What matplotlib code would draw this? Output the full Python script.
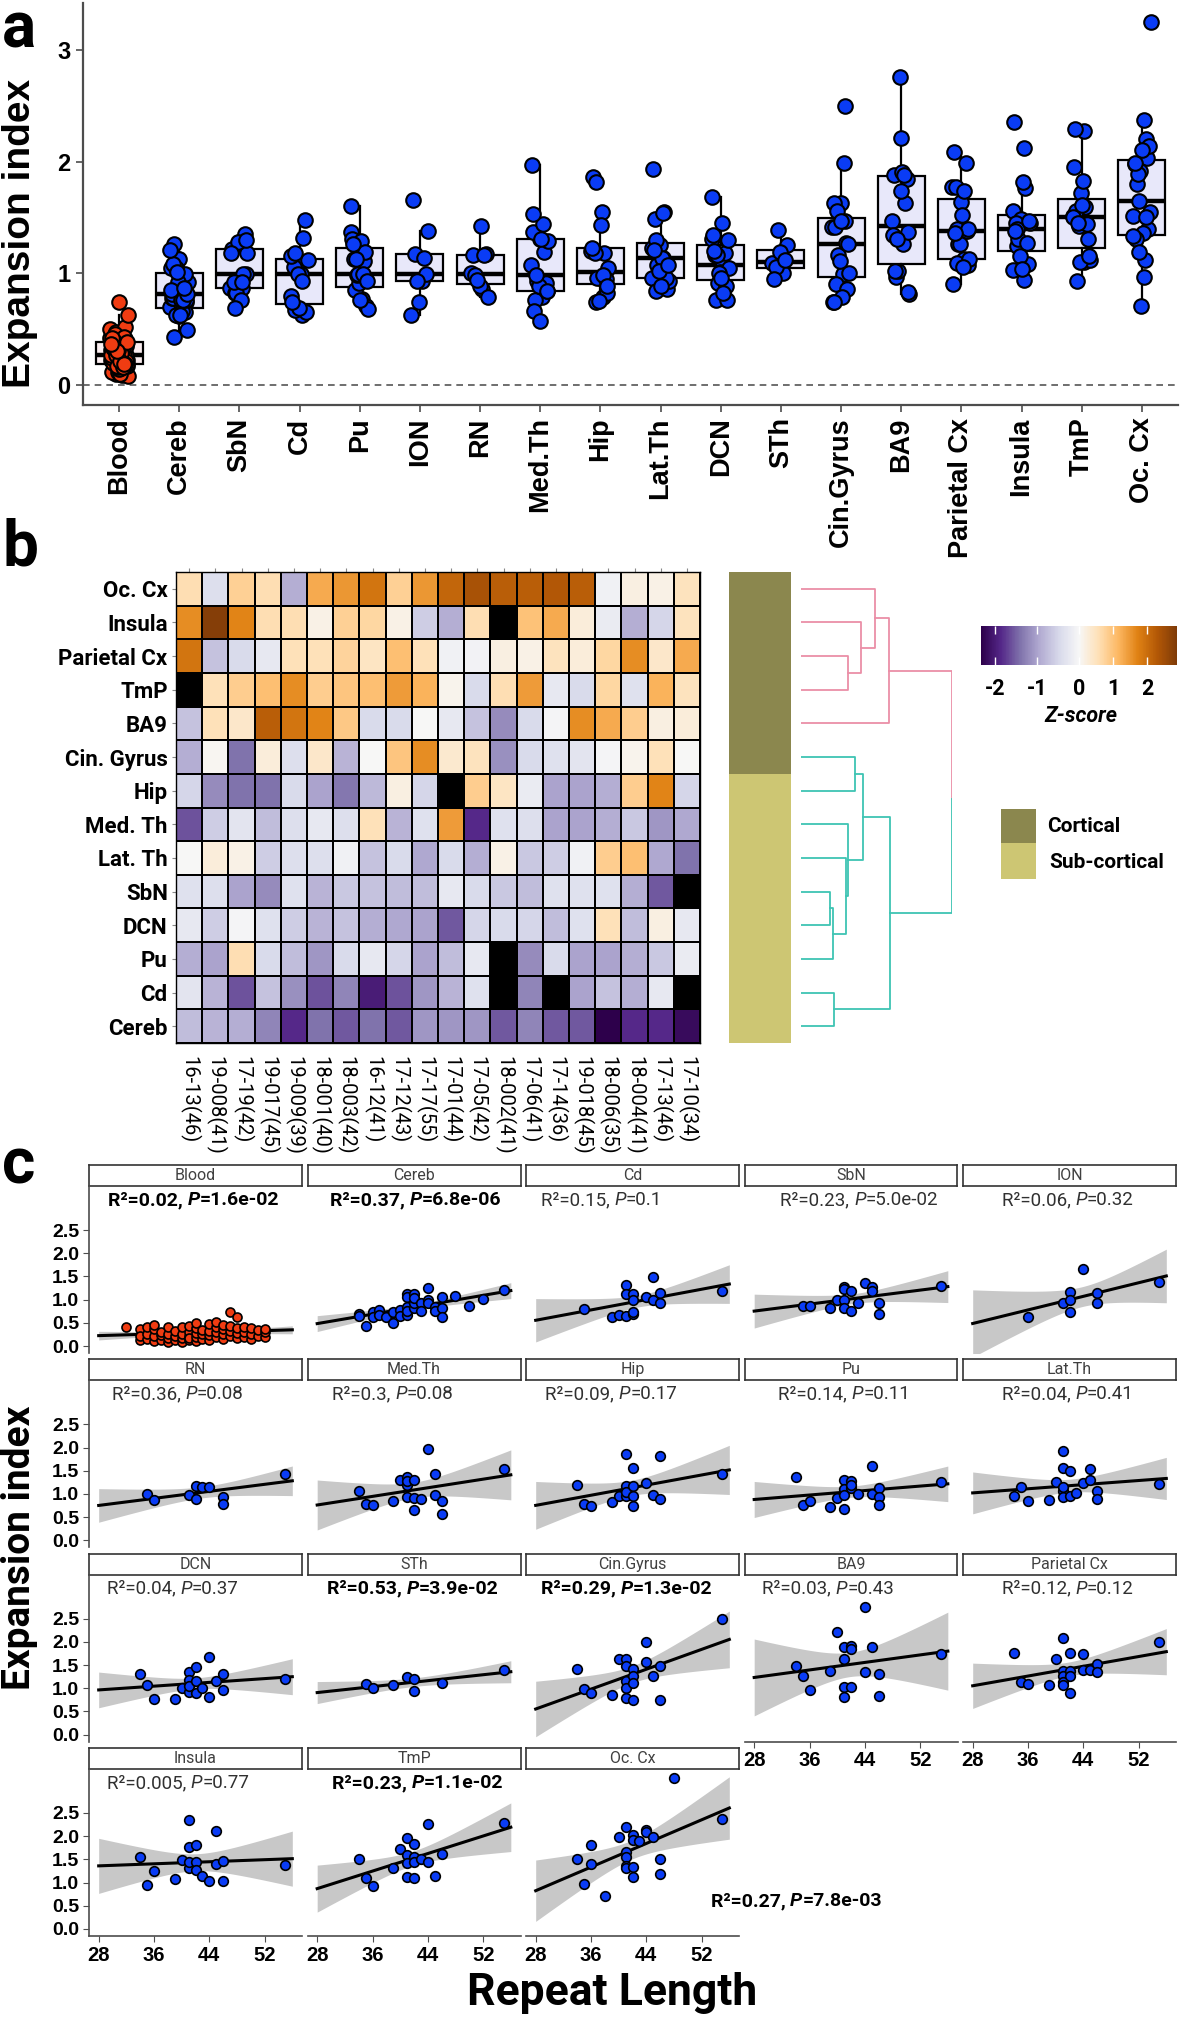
import numpy as np
import matplotlib
matplotlib.use('Agg')
import matplotlib.pyplot as plt
from matplotlib.colors import TwoSlopeNorm, ListedColormap
from matplotlib.patches import Rectangle

W, H = 1180, 2020

# ---------------- data: expansion index per tissue, with repeat length ----------------
blood_repeat = [32, 34, 34, 34, 35, 35, 35, 36, 36, 36, 36, 37, 37, 37, 38, 38, 38, 38,
                39, 39, 39, 40, 40, 40, 40, 41, 41, 41, 41, 41, 42, 42, 42, 42, 42,
                43, 43, 43, 44, 44, 44, 44, 45, 45, 45, 45, 46, 46, 46, 46,
                47, 47, 47, 47, 48, 48, 48, 48, 49, 49, 49, 50, 50, 50, 51, 51, 52, 52, 52]
blood_index = [0.42, 0.37, 0.14, 0.22, 0.16, 0.27, 0.40, 0.10, 0.22, 0.36, 0.46, 0.13, 0.24, 0.31,
               0.09, 0.18, 0.27, 0.40, 0.12, 0.22, 0.33, 0.08, 0.18, 0.27, 0.41,
               0.12, 0.22, 0.31, 0.44, 0.17, 0.10, 0.20, 0.28, 0.38, 0.50,
               0.15, 0.25, 0.35, 0.14, 0.24, 0.33, 0.47, 0.19, 0.30, 0.40, 0.52,
               0.16, 0.27, 0.37, 0.46, 0.21, 0.74, 0.33, 0.43, 0.17, 0.63, 0.29, 0.39,
               0.19, 0.31, 0.42, 0.16, 0.27, 0.38, 0.21, 0.34, 0.19, 0.30, 0.37]

cereb_repeat = [34, 34, 35, 36, 36, 37, 37, 38, 39, 39, 40, 40, 41, 41, 41, 41, 41, 42, 42, 42, 42,
                43, 43, 44, 44, 44, 45, 45, 46, 46, 46, 48, 50, 52, 55]
cereb_index = [0.70, 0.65, 0.43, 0.74, 0.62, 0.78, 0.67, 0.63, 0.49, 0.74, 0.78, 0.65, 1.13, 1.05,
               0.66, 0.85, 0.76, 1.13, 0.81, 0.92, 1.03, 0.92, 0.76, 1.26, 0.99, 0.92, 0.85, 0.76,
               1.05, 0.81, 0.63, 1.08, 0.87, 1.01, 1.21]

sbn_repeat = [35, 36, 39, 40, 41, 41, 41, 41, 42, 42, 43, 44, 45, 45, 46, 46, 55]
sbn_index = [0.87, 0.87, 0.82, 0.99, 1.28, 1.22, 0.99, 0.82, 1.18, 0.76, 0.92, 1.35, 1.28, 1.18, 0.92, 0.69, 1.30]

cd_repeat = [35, 39, 40, 41, 42, 42, 41, 41, 42, 42, 44, 45, 45, 46, 46, 55]
cd_index = [0.80, 0.63, 0.67, 0.65, 0.69, 0.74, 1.32, 1.12, 1.12, 0.99, 1.06, 1.48, 0.99, 1.15, 0.93, 1.18]

pu_repeat = [34, 35, 36, 39, 40, 41, 41, 41, 41, 42, 42, 42, 43, 45, 45, 46, 46, 46, 55]
pu_index = [1.37, 0.77, 0.85, 0.71, 0.91, 1.31, 1.11, 0.98, 0.68, 1.29, 1.13, 1.19, 0.99, 1.60, 0.99, 1.13, 0.93, 0.76, 1.26]

ion_repeat = [36, 41, 42, 42, 42, 44, 46, 46, 55]
ion_index = [0.63, 0.93, 1.17, 0.99, 0.74, 1.66, 1.14, 0.93, 1.38]

rn_repeat = [35, 36, 41, 42, 42, 43, 44, 46, 46, 55]
rn_index = [1.00, 0.86, 0.98, 1.17, 0.89, 1.16, 1.16, 0.94, 0.79, 1.42]

medth_repeat = [34, 35, 36, 39, 40, 41, 41, 41, 41, 42, 42, 42, 43, 44, 45, 45, 46, 46, 55]
medth_index = [1.07, 0.79, 0.76, 0.84, 1.31, 1.37, 1.19, 0.93, 1.29, 1.31, 0.66, 0.91, 0.89, 1.97, 1.44, 0.98, 0.84, 0.57, 1.53]

hip_repeat = [34, 35, 36, 39, 40, 41, 41, 41, 41, 42, 42, 42, 42, 44, 45, 46, 46, 55]
hip_index = [1.20, 0.79, 0.74, 0.82, 0.96, 1.86, 1.18, 0.96, 1.05, 1.55, 1.18, 0.95, 0.75, 1.23, 0.98, 1.82, 0.89, 1.43]

latth_repeat = [34, 35, 36, 39, 40, 41, 41, 41, 41, 41, 42, 42, 43, 44, 45, 45, 46, 46, 55]
latth_index = [0.96, 1.14, 0.84, 0.86, 1.25, 1.93, 1.55, 1.07, 0.93, 1.14, 1.49, 0.96, 1.02, 1.23, 1.54, 1.30, 1.07, 0.89, 1.21]

dcn_repeat = [34, 35, 36, 39, 40, 41, 41, 41, 41, 42, 42, 42, 43, 44, 44, 45, 46, 46, 55]
dcn_index = [1.31, 1.07, 0.76, 0.76, 1.01, 1.34, 1.18, 0.91, 1.05, 1.45, 1.16, 0.89, 1.00, 1.68, 0.82, 1.16, 1.30, 0.96, 1.20]

sth_repeat = [35, 36, 39, 41, 42, 42, 46, 55]
sth_index = [1.09, 1.00, 1.06, 1.25, 1.19, 0.95, 1.12, 1.39]

cin_repeat = [34, 35, 36, 39, 40, 41, 41, 41, 41, 41, 42, 42, 42, 42, 44, 44, 45, 46, 46, 55]
cin_index = [1.41, 0.99, 0.90, 0.86, 1.63, 1.63, 1.47, 1.16, 1.00, 0.79, 1.41, 1.27, 1.11, 0.74, 1.99, 1.56, 1.26, 1.47, 0.74, 2.50]

ba9_repeat = [34, 35, 36, 39, 40, 41, 41, 41, 41, 42, 42, 42, 44, 44, 45, 46, 46, 55]
ba9_index = [1.47, 1.26, 0.97, 1.37, 2.21, 1.88, 1.63, 1.02, 0.81, 1.91, 1.02, 1.84, 2.76, 1.34, 1.88, 1.31, 0.83, 1.74]

par_repeat = [34, 35, 36, 39, 40, 41, 41, 41, 41, 41, 42, 42, 42, 42, 44, 44, 45, 46, 46, 55]
par_index = [1.77, 1.13, 1.09, 1.07, 1.64, 2.09, 1.38, 1.26, 1.13, 1.06, 1.77, 1.38, 1.26, 0.90, 1.74, 1.40, 1.40, 1.52, 1.36, 1.99]

ins_repeat = [34, 35, 36, 39, 40, 41, 41, 41, 41, 42, 42, 42, 43, 44, 45, 45, 46, 46, 55]
ins_index = [1.56, 0.94, 1.24, 1.08, 1.49, 2.35, 1.76, 1.31, 1.45, 1.82, 1.45, 1.27, 1.15, 1.03, 2.12, 1.40, 1.47, 1.04, 1.38]

tmp_repeat = [34, 35, 36, 39, 40, 41, 41, 41, 41, 42, 42, 42, 42, 43, 44, 44, 45, 46, 55]
tmp_index = [1.51, 1.10, 0.93, 1.31, 1.72, 1.95, 1.59, 1.42, 1.12, 1.83, 1.56, 1.44, 1.10, 1.50, 2.27, 1.45, 1.15, 1.61, 2.29]

occx_repeat = [34, 35, 36, 36, 38, 40, 41, 41, 41, 41, 41, 42, 42, 42, 42, 43, 44, 44, 45, 46, 46, 48, 55]
occx_index = [1.51, 0.97, 1.80, 1.40, 0.71, 1.98, 2.20, 1.65, 1.55, 1.36, 1.31, 2.03, 1.92, 1.33, 1.12, 1.89,
              2.14, 2.10, 1.99, 1.50, 1.19, 3.25, 2.37]

box_order = ['Blood', 'Cereb', 'SbN', 'Cd', 'Pu', 'ION', 'RN', 'Med.Th', 'Hip', 'Lat.Th', 'DCN', 'STh',
             'Cin.Gyrus', 'BA9', 'Parietal Cx', 'Insula', 'TmP', 'Oc. Cx']
facet_order = ['Blood', 'Cereb', 'Cd', 'SbN', 'ION', 'RN', 'Med.Th', 'Hip', 'Pu', 'Lat.Th', 'DCN', 'STh',
               'Cin.Gyrus', 'BA9', 'Parietal Cx', 'Insula', 'TmP', 'Oc. Cx']
facet_r2 = ['0.02', '0.37', '0.15', '0.23', '0.06', '0.36', '0.3', '0.09', '0.14', '0.04', '0.04', '0.53',
            '0.29', '0.03', '0.12', '0.005', '0.23', '0.27']
facet_p = ['1.6e-02', '6.8e-06', '0.1', '5.0e-02', '0.32', '0.08', '0.08', '0.17', '0.11', '0.41', '0.37',
           '3.9e-02', '1.3e-02', '0.43', '0.12', '0.77', '1.1e-02', '7.8e-03']
facet_bold = [True, True, False, False, False, False, False, False, False, False, False, True,
              True, False, False, False, True, True]
# x position where each R2 label starts (repeat-length units)
facet_label_x = [29.4, 29.8, 28.8, 31.8, 32.2, 29.9, 30.2, 29.4, 31.5, 32.2, 29.2, 29.4,
                 28.8, 29.2, 32.2, 29.2, 30.1, 53.3]

# ---------------- data: heatmap z-scores ----------------
heat_rows = ['Oc. Cx', 'Insula', 'Parietal Cx', 'TmP', 'BA9', 'Cin. Gyrus', 'Hip', 'Med. Th', 'Lat. Th',
             'SbN', 'DCN', 'Pu', 'Cd', 'Cereb']
heat_cols = ['16-13(46)', '19-008(41)', '17-19(42)', '19-017(45)', '19-009(39)', '18-001(40)', '18-003(42)',
             '16-12(41)', '17-12(43)', '17-17(55)', '17-01(44)', '17-05(42)', '18-002(41)', '17-06(41)',
             '17-14(36)', '19-018(45)', '18-006(35)', '18-004(41)', '17-13(46)', '17-10(34)']
heat_group = ['Cortical'] * 6 + ['Sub-cortical'] * 8
nan = np.nan
z_occx = [0.6, -0.4, 0.8, 0.6, -0.9, 1.3, 1.5, 1.9, 0.8, 1.5, 2.1, 2.4, 2.2, 2.2, 2.3, 2.2, -0.1, 0.2, 0.15, 0.5]
z_insula = [1.6, 2.8, 1.7, 0.6, 0.6, 0.15, 0.8, 0.7, 0.15, -0.6, -0.9, 0.6, nan, 1.0, 1.3, 0.25, -0.2, -0.9, -0.5, 0.5]
z_parietal = [1.9, -0.7, -0.45, -0.25, 0.55, 0.55, 0.75, 0.45, 1.05, 0.55, -0.1, -0.08, 0.2, 0.15, 0.5, 0.25, 0.7, 1.6, 0.4, 1.3]
z_tmp = [nan, 0.55, 0.85, 1.05, 1.6, 0.85, 0.95, 1.05, 1.45, 1.2, 0.1, -0.45, 0.6, 1.45, -0.25, -0.45, 0.7, -0.35, 1.2, 0.5]
z_ba9 = [-0.7, 0.55, 0.4, 2.2, 1.9, 1.7, 0.9, -0.45, -0.45, 0.0, -0.25, -0.7, -1.2, -0.45, -0.05, 1.6, 1.3, 0.85, 0.2, 0.25]
z_cin = [-0.9, 0.05, -1.4, 0.25, -0.4, 0.4, -0.85, 0.0, 0.95, 1.6, 0.35, 0.5, -1.15, -0.45, -0.35, -0.3, -0.05, 0.1, 0.55, 0.0]
z_hip = [-0.5, -1.2, -1.4, -1.4, -0.45, -1.0, -1.35, -0.8, 0.2, -0.5, nan, 0.85, 0.45, -0.2, -1.0, -1.0, -0.9, 0.85, 1.7, -0.5]
z_medth = [-1.6, -0.6, -0.3, -0.75, -0.4, -0.25, -0.4, 0.55, -0.85, -0.35, 1.45, -1.85, -0.35, -0.4, -1.0, -1.0, -0.9, -0.65, -1.1, -0.95]
z_latth = [0.02, 0.25, 0.15, -0.6, -0.4, -0.4, -0.1, -0.7, -0.45, -0.95, -0.45, -0.9, 0.15, -0.65, -0.6, -0.1, 0.85, 1.05, -0.95, -1.4]
z_sbn = [-0.35, -0.4, -1.0, -1.2, -0.35, -0.85, -0.65, -0.7, -0.75, -0.75, -0.25, -0.45, -0.65, -0.75, -0.35, -0.35, -0.35, -0.9, -1.55, nan]
z_dcn = [-0.25, -0.6, -0.05, -0.35, -0.6, -0.85, -0.7, -0.9, -0.95, -1.0, -1.55, -0.5, -0.45, -0.5, -0.75, -0.35, 0.55, -0.75, 0.2, -0.25]
z_pu = [-0.9, -1.0, 0.6, -0.45, -0.75, -1.1, -0.45, -0.25, -0.5, -1.0, -0.75, -0.25, nan, -1.2, -0.45, -1.0, -1.0, -0.9, -0.65, -0.2]
z_cd = [-0.3, -0.85, -1.6, -0.7, -1.15, -1.6, -1.25, -2.0, -1.6, -1.1, -0.85, -0.35, nan, -1.25, nan, -1.0, -0.7, -0.9, -0.25, nan]
z_cereb = [-0.75, -0.85, -0.9, -1.25, -1.85, -1.4, -1.55, -1.4, -1.55, -1.1, -1.1, -1.1, -1.55, -1.25, -1.55, -1.55, -2.5, -1.85, -1.85, -2.2]

# row dendrogram: (child a, child b, merge height); leaves are heatmap rows 0..13
dendro_merges = [(2, 3, 0.31), (1, 14, 0.40), (0, 15, 0.49), (16, 4, 0.58),
                 (9, 10, 0.19), (18, 11, 0.21), (8, 19, 0.30), (7, 20, 0.31),
                 (5, 6, 0.36), (22, 21, 0.41), (12, 13, 0.22), (23, 24, 0.59),
                 (17, 25, 1.0)]

# ---------------- helpers ----------------
plt.rcParams['font.family'] = ['Liberation Sans', 'DejaVu Sans']
plt.rcParams['axes.unicode_minus'] = False

BLUE = '#0a3cf5'
RED = '#f03c12'
GREY_AX = '#4d4d4d'


def px_axes(fig, x0, y0, x1, y1):
    return fig.add_axes([x0 / W, 1 - y1 / H, (x1 - x0) / W, (y1 - y0) / H])


def spread(n, width=0.3):
    return ((np.arange(n) * 0.618034) % 1.0 - 0.5) * width


def r2_label(ax, x, y, r2, p, bold):
    w = 'bold' if bold else 'normal'
    col = 'black' if bold else '#303030'
    size = 14 if bold else 13.5
    kw = dict(fontsize=size, fontweight=w, color=col, family=['Roboto', 'DejaVu Sans'], va='bottom')
    t1 = ax.text(x, y, 'R\u00b2=%s, ' % r2, ha='left', clip_on=False, **kw)
    t2 = ax.annotate('P', xy=(1, 0), xycoords=t1, fontstyle='italic', **kw)
    ax.annotate('=' + p, xy=(1, 0), xycoords=t2, **kw)


index_by = {'Blood': blood_index, 'Cereb': cereb_index, 'SbN': sbn_index, 'Cd': cd_index, 'Pu': pu_index,
            'ION': ion_index, 'RN': rn_index, 'Med.Th': medth_index, 'Hip': hip_index, 'Lat.Th': latth_index,
            'DCN': dcn_index, 'STh': sth_index, 'Cin.Gyrus': cin_index, 'BA9': ba9_index,
            'Parietal Cx': par_index, 'Insula': ins_index, 'TmP': tmp_index, 'Oc. Cx': occx_index}
repeat_by = {'Blood': blood_repeat, 'Cereb': cereb_repeat, 'SbN': sbn_repeat, 'Cd': cd_repeat, 'Pu': pu_repeat,
             'ION': ion_repeat, 'RN': rn_repeat, 'Med.Th': medth_repeat, 'Hip': hip_repeat,
             'Lat.Th': latth_repeat, 'DCN': dcn_repeat, 'STh': sth_repeat, 'Cin.Gyrus': cin_repeat,
             'BA9': ba9_repeat, 'Parietal Cx': par_repeat, 'Insula': ins_repeat, 'TmP': tmp_repeat,
             'Oc. Cx': occx_repeat}

fig = plt.figure(figsize=(W / 100, H / 100), dpi=100)
over = fig.add_axes([0, 0, 1, 1])
over.set_xlim(0, W)
over.set_ylim(H, 0)
over.axis('off')

rob = ['Roboto', 'DejaVu Sans']
for letter, yb in [('a', 47), ('b', 565), ('c', 1183)]:
    over.text(2, yb, letter, fontsize=46, fontweight='bold', family=rob, va='baseline', ha='left')

# ---------------- panel a ----------------
axa = px_axes(fig, 83, 3, 1178, 405)
data_a = [np.array(index_by[t]) for t in box_order]
bp = axa.boxplot(data_a, positions=np.arange(1, 19), widths=0.78, patch_artist=True, showfliers=False,
                 showcaps=False, whis=1.5,
                 medianprops=dict(color='black', linewidth=3.2),
                 boxprops=dict(edgecolor='black', linewidth=1.6),
                 whiskerprops=dict(color='black', linewidth=1.6))
for i, box in enumerate(bp['boxes']):
    box.set_facecolor('#fbeef0' if i == 0 else '#e8e8fa')
for i, vals in enumerate(data_a):
    axa.scatter(i + 1 + spread(len(vals)), vals, s=110, c=RED if i == 0 else BLUE,
                edgecolors='black', linewidths=1.5, zorder=3)
axa.axhline(0, ls=(0, (4, 3)), color='#555555', lw=1.2, zorder=1)
axa.set_xlim(0.4, 18.6)
axa.set_ylim(-0.18, 3.42)
axa.set_yticks([0, 1, 2, 3])
axa.set_yticklabels(['0', '1', '2', '3'], fontsize=17, fontweight='bold')
axa.set_xticks(np.arange(1, 19))
axa.set_xticklabels(box_order, rotation=90, fontsize=19.5, fontweight='bold')
for s in ['top', 'right']:
    axa.spines[s].set_visible(False)
for s in ['left', 'bottom']:
    axa.spines[s].set_color(GREY_AX)
    axa.spines[s].set_linewidth(1.6)
axa.tick_params(color=GREY_AX, length=5, width=1.2, pad=4)
over.text(20, 233, 'Expansion index', rotation=90, fontsize=28, fontweight='bold', ha='center', va='center')

# ---------------- panel b ----------------
Z = np.array([z_occx, z_insula, z_parietal, z_tmp, z_ba9, z_cin, z_hip, z_medth, z_latth,
              z_sbn, z_dcn, z_pu, z_cd, z_cereb])
cmap = plt.get_cmap('PuOr_r').copy()
norm = TwoSlopeNorm(vmin=-2.33, vcenter=0.0, vmax=2.87)
hax = px_axes(fig, 176, 572, 700, 1043)
hax.set_facecolor('black')
mesh = hax.pcolormesh(np.ma.masked_invalid(Z), cmap=cmap, norm=norm, edgecolors='black', linewidth=1.1)
hax.set_xlim(0, len(heat_cols))
hax.set_ylim(len(heat_rows), 0)
hax.set_yticks(np.arange(len(heat_rows)) + 0.5)
hax.set_yticklabels(heat_rows, fontsize=16, fontweight='bold', family=rob)
hax.set_xticks(np.arange(len(heat_cols)) + 0.5)
hax.set_xticklabels(heat_cols, rotation=-90, fontsize=14.5, family=rob)
hax.tick_params(axis='x', bottom=False, top=True, labelbottom=True, labeltop=False, length=3,
                color='#888888', pad=6)
hax.tick_params(axis='y', length=3, color='#888888', pad=3)
for s in hax.spines.values():
    s.set_color('black')
    s.set_linewidth(1.0)

# annotation bar
aax = px_axes(fig, 729, 572, 791, 1043)
codes = np.array([[0 if g == 'Cortical' else 1] for g in heat_group])
group_cmap = ListedColormap(['#8b874e', '#cdc673'])
aax.pcolormesh(codes, cmap=group_cmap, vmin=0, vmax=1)
aax.set_ylim(len(heat_group), 0)
aax.axis('off')

# dendrogram
dax = px_axes(fig, 801, 572, 952, 1043)
PINK = '#ea8fa7'
TEAL = '#3ec4b3'
n_leaves = len(heat_rows)
pos = {i: (0.0, i + 0.5) for i in range(n_leaves)}
for k, (a, b, h) in enumerate(dendro_merges):
    ha_, ya = pos[a]
    hb, yb = pos[b]
    mid = (ya + yb) / 2
    if k == len(dendro_merges) - 1:
        dax.plot([ha_, h, h], [ya, ya, mid + 0.2], color=PINK, lw=1.3)
        dax.plot([h, h, hb], [mid + 0.2, yb, yb], color=TEAL, lw=1.3)
    else:
        col = PINK if k < 4 else TEAL
        dax.plot([ha_, h, h, hb], [ya, ya, yb, yb], color=col, lw=1.3)
    pos[n_leaves + k] = (h, mid)
dax.set_xlim(0, 1.0)
dax.set_ylim(n_leaves, 0)
dax.axis('off')

# colour bar
cax = px_axes(fig, 981, 626, 1177, 665)
cbar = fig.colorbar(mesh, cax=cax, orientation='horizontal', ticks=[-2, -1, 0, 1, 2])
cbar.outline.set_visible(False)
cax.tick_params(color='white', direction='in', length=6, width=1, pad=9, top=True)
cax.set_xticklabels(['-2', '-1', '0', '1', '2'], fontsize=15.5, fontweight='bold', family=rob)
over.text(1081, 716, 'Z-score', fontsize=15.5, fontweight='bold', fontstyle='italic', family=rob,
          ha='center', va='center')

# group legend
over.add_patch(Rectangle((1001, 809), 35, 34, facecolor='#8b874e', edgecolor='none'))
over.add_patch(Rectangle((1001, 843), 35, 36, facecolor='#cdc673', edgecolor='none'))
over.text(1047, 826, 'Cortical', fontsize=15, fontweight='bold', family=rob, va='center')
over.text(1049, 862, 'Sub-cortical', fontsize=15, fontweight='bold', family=rob, va='center')

# ---------------- panel c ----------------
xs_line = np.linspace(28, 56, 60)
for i, name in enumerate(facet_order):
    r, c = divmod(i, 5)
    x0 = 89 + c * 218.5
    y0 = 1165 + r * 194.3
    sax = px_axes(fig, x0, y0, x0 + 213, y0 + 21)
    sax.set_xticks([])
    sax.set_yticks([])
    for s in sax.spines.values():
        s.set_color('#333333')
        s.set_linewidth(1.2)
    sax.text(0.5, 0.5, name, transform=sax.transAxes, ha='center', va='center', fontsize=11.5,
             color='#404040', family=rob)

    ax = px_axes(fig, x0, y0 + 21, x0 + 213, y0 + 188)
    x = np.array(repeat_by[name], dtype=float)
    y = np.array(index_by[name], dtype=float)
    n = len(x)
    slope, icpt = np.polyfit(x, y, 1)
    resid = y - (slope * x + icpt)
    s_err = np.sqrt(np.sum(resid ** 2) / (n - 2))
    sxx = np.sum((x - x.mean()) ** 2)
    df = n - 2
    tq = 1.96 + 2.4 / df + 2.5 / df ** 2
    fit = slope * xs_line + icpt
    half = tq * s_err * np.sqrt(1.0 / n + (xs_line - x.mean()) ** 2 / sxx)
    ax.fill_between(xs_line, fit - half, fit + half, color='#c8c8c8', lw=0, zorder=1)
    ax.plot(xs_line, fit, color='black', lw=2.2, zorder=2)
    ax.scatter(x, y, s=42 if name == 'Blood' else 48, c=RED if name == 'Blood' else BLUE,
               edgecolors='black', linewidths=1.2, zorder=3)
    ax.set_xlim(26.6, 57.4)
    ax.set_ylim(-0.15, 3.45)
    if name == 'Oc. Cx':
        r2_label(ax, facet_label_x[i], 0.40, facet_r2[i], facet_p[i], facet_bold[i])
    else:
        r2_label(ax, facet_label_x[i], 2.95, facet_r2[i], facet_p[i], facet_bold[i])

    for s in ['top', 'right', 'left', 'bottom']:
        ax.spines[s].set_visible(False)
    ax.set_facecolor('none')
    if c == 0:
        ax.spines['left'].set_visible(True)
        ax.spines['left'].set_color(GREY_AX)
        ax.spines['left'].set_linewidth(1.2)
        ax.set_yticks([0, 0.5, 1.0, 1.5, 2.0, 2.5])
        ax.set_yticklabels(['0.0', '0.5', '1.0', '1.5', '2.0', '2.5'], fontsize=14, fontweight='bold')
        ax.tick_params(axis='y', color=GREY_AX, length=4, pad=3)
    else:
        ax.set_yticks([])
    if r == 3 or (r == 2 and c >= 3):
        ax.spines['bottom'].set_visible(True)
        ax.spines['bottom'].set_color(GREY_AX)
        ax.spines['bottom'].set_linewidth(1.2)
        ax.set_xticks([28, 36, 44, 52])
        ax.set_xticklabels(['28', '36', '44', '52'], fontsize=14.5, fontweight='bold')
        ax.tick_params(axis='x', color=GREY_AX, length=4, pad=3)
    else:
        ax.set_xticks([])

over.text(20, 1548, 'Expansion index', rotation=90, fontsize=28, fontweight='bold', ha='center',
          va='center', family=rob)
over.text(612, 1993, 'Repeat Length', fontsize=32, fontweight='bold', ha='center', va='center', family=rob)

fig.savefig('out.png', dpi=100)
